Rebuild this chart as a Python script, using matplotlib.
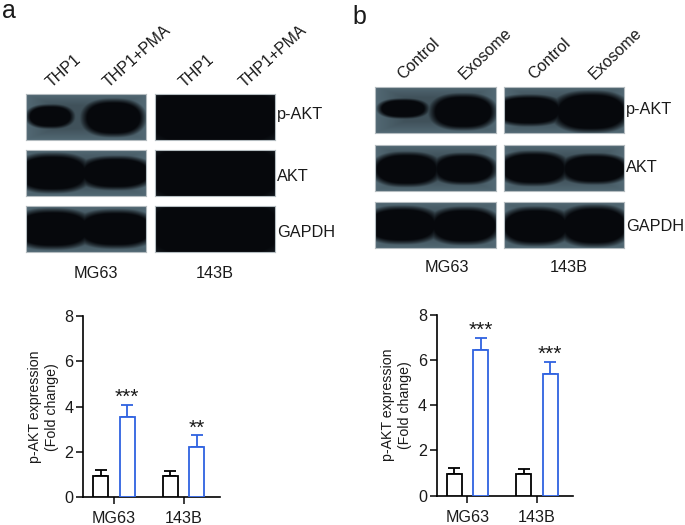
import numpy as np
import matplotlib
matplotlib.use("Agg")
import matplotlib.pyplot as plt

plt.rcParams["font.family"] = ["Liberation Sans", "DejaVu Sans"]

W, H = 685, 525

cell_lines = ["MG63", "143B"]
blot_rows = ["p-AKT", "AKT", "GAPDH"]
lanes_a = ["THP1", "THP1+PMA"]
lanes_b = ["Control", "Exosome"]

# bar values
ctrl_a = [0.95, 0.95]
ctrl_a_top = [1.20, 1.18]
treat_a = [3.55, 2.20]
treat_a_top = [4.07, 2.75]
stars_a = ["***", "**"]

ctrl_b = [0.95, 0.95]
ctrl_b_top = [1.22, 1.18]
treat_b = [6.42, 5.38]
treat_b_top = [6.97, 5.93]
stars_b = ["***", "***"]

# bands in each blot: (centre x, half width, centre y, half height) as panel fractions
bands_a_mg63 = [
    [(0.20, 0.185, 0.49, 0.235), (0.73, 0.245, 0.52, 0.37)],
    [(0.22, 0.30, 0.50, 0.39), (0.75, 0.30, 0.50, 0.33)],
    [(0.22, 0.32, 0.50, 0.40), (0.75, 0.32, 0.50, 0.38)],
]
bands_b_mg63 = [
    [(0.23, 0.195, 0.48, 0.19), (0.73, 0.255, 0.55, 0.35)],
    [(0.26, 0.27, 0.53, 0.34), (0.74, 0.25, 0.52, 0.31)],
    [(0.22, 0.30, 0.50, 0.37), (0.74, 0.28, 0.52, 0.37)],
]
bands_b_143b = [
    [(0.20, 0.28, 0.52, 0.30), (0.72, 0.30, 0.55, 0.40)],
    [(0.24, 0.28, 0.51, 0.34), (0.75, 0.27, 0.52, 0.30)],
    [(0.26, 0.28, 0.53, 0.38), (0.75, 0.28, 0.52, 0.41)],
]

BLUE = "#2f62e0"
INK = "#1a1a1a"


def px_axes(fig, x0, y0, x1, y1):
    # y0 is the top edge, in image pixels
    return fig.add_axes([x0 / W, 1 - y1 / H, (x1 - x0) / W, (y1 - y0) / H])


def px_text(fig, x, y, s, **kw):
    kw.setdefault("color", INK)
    fig.text(x / W, 1 - y / H, s, **kw)


def blot_image(bands, bg):
    ny, nx = 92, 240
    y, x = np.mgrid[0:1:ny * 1j, 0:1:nx * 1j]
    dark = np.zeros_like(x)
    for cx, ax, cy, ay in bands:
        r = np.abs((x - cx) / ax) ** 2.6 + np.abs((y - cy) / ay) ** 2.2
        dark = np.maximum(dark, np.clip((1.45 - r) / 0.7, 0, 1))
    # background gets a bit lighter at the rim of the film
    rim = np.minimum.reduce([x, 1 - x, y, 1 - y])
    base = np.array(bg)[None, None, :] * (1.12 - 0.25 * np.clip(rim * 4, 0, 1))[:, :, None]
    black = np.array([6, 8, 12])[None, None, :]
    img = base * (1 - dark[:, :, None]) + black * dark[:, :, None]
    return np.clip(img, 0, 255).astype(np.uint8)


def draw_blot(fig, x0, y0, x1, y1, bands, bg=(74, 94, 104)):
    ax = px_axes(fig, x0, y0, x1, y1)
    ax.imshow(blot_image(bands, bg), aspect="auto", interpolation="bilinear")
    ax.set_xticks([])
    ax.set_yticks([])
    for s in ax.spines.values():
        s.set_color("#b4bcc0")
        s.set_linewidth(0.8)


def draw_bars(fig, x0, y0, x1, y1, ctrl, ctrl_top, treat, treat_top, stars, star_y):
    ax = px_axes(fig, x0, y0, x1, y1)
    pos = np.arange(len(cell_lines))
    off, width = 0.19, 0.215
    ax.bar(pos - off, ctrl, width, facecolor="white", edgecolor="black", linewidth=1.3, zorder=3)
    ax.bar(pos + off, treat, width, facecolor="white", edgecolor=BLUE, linewidth=1.3, zorder=3)
    for i in pos:
        ax.errorbar(i - off, ctrl[i], yerr=[[0], [ctrl_top[i] - ctrl[i]]], color="black",
                    elinewidth=1.3, capsize=4.5, capthick=1.3, zorder=2)
        ax.errorbar(i + off, treat[i], yerr=[[0], [treat_top[i] - treat[i]]], color=BLUE,
                    elinewidth=1.3, capsize=4.5, capthick=1.3, zorder=2)
        ax.text(i + off, star_y[i], stars[i], ha="center", va="center", fontsize=15, color=INK)
    ax.set_xlim(-0.44, 1.52)
    ax.set_ylim(0, 8)
    ax.set_yticks([0, 2, 4, 6, 8])
    ax.set_xticks(pos)
    ax.set_xticklabels(cell_lines)
    ax.tick_params(axis="both", labelsize=11.6, width=1.2, length=5, colors=INK)
    ax.tick_params(axis="y", pad=2)
    ax.tick_params(axis="x", pad=5)
    ax.set_ylabel("p-AKT expression\n(Fold change)", fontsize=10.2, color=INK, labelpad=4, linespacing=1.3)
    for s in ["top", "right"]:
        ax.spines[s].set_visible(False)
    for s in ["left", "bottom"]:
        ax.spines[s].set_linewidth(1.2)
    ax.patch.set_alpha(0)


def main():
    fig = plt.figure(figsize=(W / 100, H / 100), dpi=100)

    px_text(fig, 2, 18, "a", fontsize=18, ha="left", va="baseline")
    px_text(fig, 352, 24, "b", fontsize=18, ha="left", va="baseline")

    # panel a blots
    rows_a = [(94, 140), (150, 196), (206, 252)]
    baselines_a = [119, 181, 237]
    for (top, bottom), bands, name, base in zip(rows_a, bands_a_mg63, blot_rows, baselines_a):
        draw_blot(fig, 26, top, 146, bottom, bands)
        draw_blot(fig, 155, top, 275, bottom, [(0.5, 0.6, 0.5, 0.7)], bg=(30, 38, 44))
        px_text(fig, 277, base, name, fontsize=11.7, ha="left", va="baseline")

    # panel b blots
    rows_b = [(87, 133.5), (144.7, 190.7), (202, 248)]
    baselines_b = [114, 172, 231]
    for (top, bottom), left, right, name, base in zip(rows_b, bands_b_mg63, bands_b_143b, blot_rows, baselines_b):
        draw_blot(fig, 375, top, 495.5, bottom, left)
        draw_blot(fig, 504, top, 624, bottom, right)
        px_text(fig, 626, base, name, fontsize=11.7, ha="left", va="baseline")

    # lane labels, rotated, anchored at their lower left end
    for x, s in zip([54, 111, 187, 247], lanes_a * 2):
        px_text(fig, x, 90, s, fontsize=11.5, rotation=42, ha="left", va="bottom", rotation_mode="anchor")
    for x, s in zip([405, 467, 536, 597], lanes_b * 2):
        px_text(fig, x, 82, s, fontsize=11.5, rotation=44, ha="left", va="bottom", rotation_mode="anchor")

    # cell line names under the blots
    for x, s in zip([96, 215], cell_lines):
        px_text(fig, x, 273, s, fontsize=11.7, ha="center", va="center")
    for x, s in zip([447, 569], cell_lines):
        px_text(fig, x, 267, s, fontsize=11.7, ha="center", va="center")

    draw_bars(fig, 83.3, 316, 220, 497.3, ctrl_a, ctrl_a_top, treat_a, treat_a_top, stars_a, [4.4, 3.05])
    draw_bars(fig, 436.7, 314.7, 573, 495.7, ctrl_b, ctrl_b_top, treat_b, treat_b_top, stars_b, [7.3, 6.25])

    fig.savefig("out.png", dpi=100)


if __name__ == "__main__":
    main()
